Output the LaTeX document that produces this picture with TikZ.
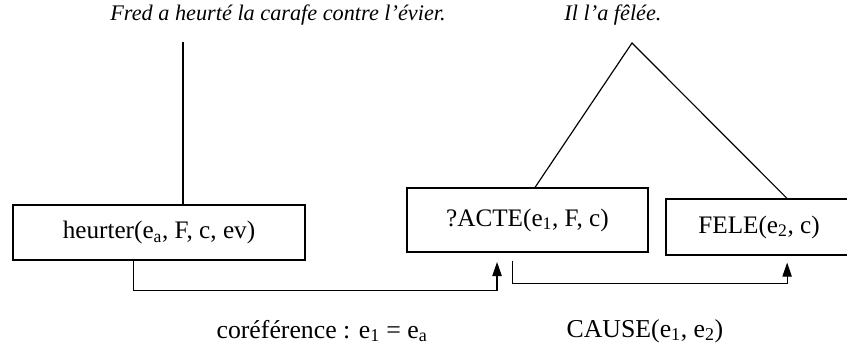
\documentclass[tikz,border=0pt]{standalone}
\usepackage{fontspec}
\setmainfont{Liberation Serif}
\usetikzlibrary{arrows.meta}
\tikzset{
  boite/.style={draw, line width=1pt, inner sep=0pt, font=\fontsize{21.5}{25}\selectfont},
  fleche/.style={line width=1pt, -{Triangle[width=8pt,length=12pt]}},
  phrase/.style={font=\fontsize{19}{22}\selectfont\itshape, inner sep=0pt},
  etiquette/.style={font=\fontsize{22}{26}\selectfont, inner sep=0pt}
}
\begin{document}
\begin{tikzpicture}[x=0.03cm,y=-0.03cm]
\clip (0,0) rectangle (847,347);
\node[phrase] (phrase1) at (278,15) {Fred a heurté la carafe contre l'évier.};
\node[phrase] (phrase2) at (613,15) {Il l'a fêlée.};
\coordinate (t1) at (183,42);
\coordinate (t2) at (632,43);
\node[boite, minimum width=292*0.03cm, minimum height=55*0.03cm] (heurter) at (159,232.5) {heurter(e\textsubscript{a}, F, c, ev)};
\node[boite, minimum width=241*0.03cm, minimum height=64*0.03cm] (acte) at (527.5,220) {?ACTE(e\textsubscript{1}, F, c)};
\node[boite, minimum width=186*0.03cm, minimum height=56*0.03cm] (fele) at (759,227) {FELE(e\textsubscript{2}, c)};
\draw[line width=1pt] (t1) -- (t1 |- heurter.north);
\draw[line width=1pt] (acte.north -| 535,0) -- (t2) -- (fele.north -| 787,0);
\draw[fleche] ([xshift=-22pt]heurter.south) -- ++(0,30) -| ([xshift=-26pt,yshift=-8pt]acte.south);
\draw[fleche] ([xshift=-13pt,yshift=-7pt]acte.south) -- ++(0,23) -| ([xshift=24pt,yshift=-6pt]fele.south);
\node[etiquette] (coref) at (322,331) {coréférence : e\textsubscript{1} = e\textsubscript{a}};
\node[etiquette] (cause) at (645,331) {CAUSE(e\textsubscript{1}, e\textsubscript{2})};
\end{tikzpicture}
\end{document}
